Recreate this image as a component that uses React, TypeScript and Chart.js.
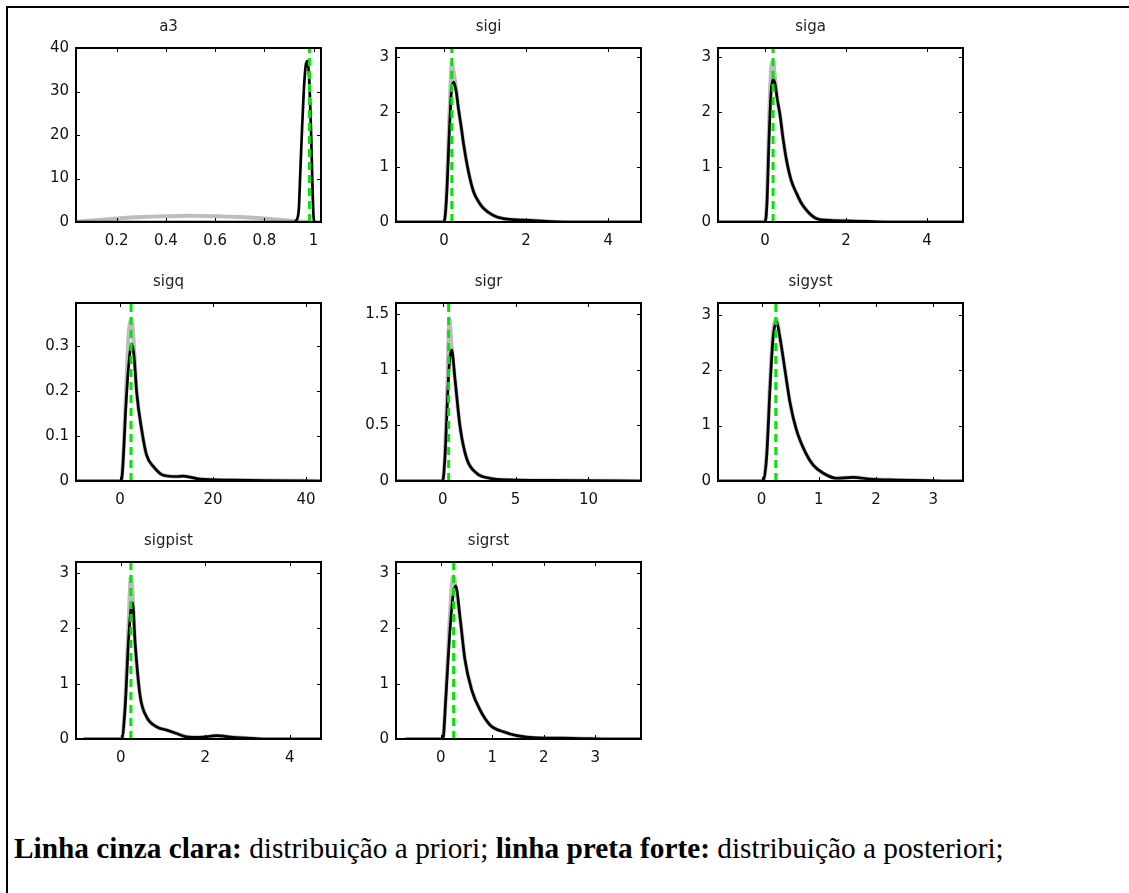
import React, { useEffect, useRef } from "react";
import { Chart, registerables } from "chart.js";

Chart.register(...registerables);

// ---------------- DATA ----------------
// a3
const a3PriorX = [0.035, 0.1, 0.2, 0.3, 0.4, 0.5, 0.6, 0.7, 0.8, 0.9, 0.95, 1.0];
const a3PriorY = [0.05, 0.35, 0.8, 1.15, 1.35, 1.42, 1.35, 1.15, 0.8, 0.35, 0.12, 0.0];
const a3PostX = [0.035, 0.5, 0.92, 0.93, 0.94, 0.945, 0.952, 0.96, 0.968, 0.975, 0.982, 0.99, 0.995, 1.0, 1.005, 1.03];
const a3PostY = [0, 0, 0, 0.4, 3, 10, 20, 30, 36, 37, 33, 20, 9, 1, 0, 0];
const a3Mode = 0.983;
const a3XTicks = [0.2, 0.4, 0.6, 0.8, 1];
const a3YTicks = [0, 10, 20, 30, 40];

// sigi
const sigiX = [-1.17, -0.5, 0, 0.06, 0.13, 0.19, 0.24, 0.3, 0.35, 0.42, 0.48, 0.6, 0.72, 0.85, 0.96, 1.2, 1.45, 1.78, 2.1, 2.5, 3.0, 4.8];
const sigiPost = [0, 0, 0, 0.42, 1.64, 2.44, 2.54, 2.35, 2.07, 1.72, 1.4, 0.9, 0.55, 0.36, 0.25, 0.12, 0.06, 0.04, 0.03, 0.01, 0, 0];
const sigiPrior = [0, 0, 0, 0.5, 1.9, 2.88, 2.7, 2.4, 2.07, 1.72, 1.4, 0.9, 0.55, 0.36, 0.25, 0.12, 0.06, 0.04, 0.03, 0.01, 0, 0];
const sigiMode = 0.19;
const sigiXTicks = [0, 2, 4];
const sigiYTicks = [0, 1, 2, 3];

// siga
const sigaX = [-1.16, -0.5, 0, 0.05, 0.1, 0.15, 0.2, 0.25, 0.3, 0.37, 0.45, 0.53, 0.65, 0.78, 0.9, 1.03, 1.15, 1.28, 1.6, 2.0, 2.5, 3.0, 4.89];
const sigaPost = [0, 0, 0, 0.35, 1.5, 2.35, 2.6, 2.5, 2.25, 1.95, 1.5, 1.13, 0.75, 0.52, 0.34, 0.21, 0.12, 0.06, 0.03, 0.02, 0.01, 0, 0];
const sigaPrior = [0, 0, 0, 0.45, 1.8, 2.75, 2.92, 2.6, 2.25, 1.95, 1.5, 1.13, 0.75, 0.52, 0.34, 0.21, 0.12, 0.06, 0.03, 0.02, 0.01, 0, 0];
const sigaMode = 0.2;
const sigaXTicks = [0, 2, 4];
const sigaYTicks = [0, 1, 2, 3];

// sigq
const sigqX = [-9.46, -3, 0, 0.36, 1.3, 1.8, 2.5, 3.0, 3.6, 4.66, 5.7, 7.2, 9.3, 12.2, 13.6, 17.2, 24, 31.5, 43.2];
const sigqPost = [0, 0, 0, 0.005, 0.173, 0.25, 0.306, 0.28, 0.196, 0.114, 0.058, 0.032, 0.013, 0.01, 0.011, 0.004, 0.002, 0.001, 0];
const sigqPrior = [0, 0, 0, 0.005, 0.2, 0.32, 0.36, 0.3, 0.196, 0.114, 0.058, 0.032, 0.013, 0.01, 0.011, 0.004, 0.002, 0.001, 0];
const sigqMode = 2.37;
const sigqXTicks = [0, 20, 40];
const sigqYTicks = [0, 0.1, 0.2, 0.3];

// sigr
const sigrX = [-3.2, -1, 0, 0.16, 0.32, 0.46, 0.62, 0.85, 1.19, 1.65, 2.33, 3.25, 4.6, 7.4, 9.7, 13.6];
const sigrPost = [0, 0, 0, 0.22, 0.7, 1.06, 1.18, 0.91, 0.49, 0.2, 0.07, 0.024, 0.01, 0.005, 0.003, 0];
const sigrPrior = [0, 0, 0, 0.25, 0.85, 1.46, 1.2, 0.91, 0.49, 0.2, 0.07, 0.024, 0.01, 0.005, 0.003, 0];
const sigrMode = 0.41;
const sigrXTicks = [0, 5, 10];
const sigrYTicks = [0, 0.5, 1, 1.5];

// sigyst
const sigystX = [-0.76, -0.3, 0, 0.03, 0.09, 0.15, 0.2, 0.26, 0.32, 0.41, 0.5, 0.61, 0.76, 0.9, 1.08, 1.31, 1.6, 1.89, 2.36, 2.94, 3.3, 3.52];
const sigystPost = [0, 0, 0, 0, 0.44, 1.7, 2.55, 2.88, 2.6, 2.0, 1.4, 0.92, 0.53, 0.29, 0.14, 0.05, 0.066, 0.036, 0.018, 0.005, 0, 0];
const sigystPrior = [0, 0, 0, 0, 0.5, 1.8, 2.65, 2.92, 2.6, 2.0, 1.4, 0.92, 0.53, 0.29, 0.14, 0.05, 0.066, 0.036, 0.018, 0.005, 0, 0];
const sigystMode = 0.25;
const sigystXTicks = [0, 1, 2, 3];
const sigystYTicks = [0, 1, 2, 3];

// sigpist
const sigpistX = [-0.88, -0.3, 0, 0.02, 0.1, 0.18, 0.24, 0.28, 0.34, 0.46, 0.61, 0.85, 1.09, 1.32, 1.56, 1.87, 2.27, 2.66, 3.13, 3.37, 4.74];
const sigpistPost = [0, 0, 0, 0, 0.53, 1.73, 2.35, 2.46, 1.73, 0.77, 0.4, 0.22, 0.16, 0.1, 0.04, 0.03, 0.06, 0.03, 0.01, 0, 0];
const sigpistPrior = [0, 0, 0, 0, 0.6, 2.0, 2.94, 2.6, 1.73, 0.77, 0.4, 0.22, 0.16, 0.1, 0.04, 0.03, 0.06, 0.03, 0.01, 0, 0];
const sigpistMode = 0.24;
const sigpistXTicks = [0, 2, 4];
const sigpistYTicks = [0, 1, 2, 3];

// sigrst
const sigrstX = [-0.69, -0.3, 0, 0.04, 0.1, 0.17, 0.24, 0.29, 0.38, 0.47, 0.6, 0.76, 0.96, 1.22, 1.48, 1.87, 2.39, 2.9, 3.3, 3.89];
const sigrstPost = [0, 0, 0, 0, 0.77, 1.85, 2.6, 2.77, 2.15, 1.43, 0.89, 0.53, 0.25, 0.13, 0.06, 0.02, 0.015, 0.005, 0, 0];
const sigrstPrior = [0, 0, 0, 0, 0.8, 2.1, 2.94, 2.75, 2.15, 1.43, 0.89, 0.53, 0.25, 0.13, 0.06, 0.02, 0.015, 0.005, 0, 0];
const sigrstMode = 0.25;
const sigrstXTicks = [0, 1, 2, 3];
const sigrstYTicks = [0, 1, 2, 3];

// ---------------- LAYOUT ----------------
const COLS = [76, 396, 718];
const BOX_W = 245;
const ROWS = [
  { top: 48, h: 174 },
  { top: 303, h: 178 },
  { top: 562, h: 177 },
];

type Panel = {
  title: string;
  col: number;
  row: number;
  xMin: number;
  xMax: number;
  yMax: number;
  xTicks: number[];
  yTicks: number[];
  priorX: number[];
  priorY: number[];
  postX: number[];
  postY: number[];
  mode: number;
};

const PANELS: Panel[] = [
  { title: "a3", col: 0, row: 0, xMin: 0.035, xMax: 1.03, yMax: 40, xTicks: a3XTicks, yTicks: a3YTicks, priorX: a3PriorX, priorY: a3PriorY, postX: a3PostX, postY: a3PostY, mode: a3Mode },
  { title: "sigi", col: 1, row: 0, xMin: -1.17, xMax: 4.8, yMax: 3.16, xTicks: sigiXTicks, yTicks: sigiYTicks, priorX: sigiX, priorY: sigiPrior, postX: sigiX, postY: sigiPost, mode: sigiMode },
  { title: "siga", col: 2, row: 0, xMin: -1.16, xMax: 4.89, yMax: 3.16, xTicks: sigaXTicks, yTicks: sigaYTicks, priorX: sigaX, priorY: sigaPrior, postX: sigaX, postY: sigaPost, mode: sigaMode },
  { title: "sigq", col: 0, row: 1, xMin: -9.46, xMax: 43.2, yMax: 0.397, xTicks: sigqXTicks, yTicks: sigqYTicks, priorX: sigqX, priorY: sigqPrior, postX: sigqX, postY: sigqPost, mode: sigqMode },
  { title: "sigr", col: 1, row: 1, xMin: -3.2, xMax: 13.6, yMax: 1.6, xTicks: sigrXTicks, yTicks: sigrYTicks, priorX: sigrX, priorY: sigrPrior, postX: sigrX, postY: sigrPost, mode: sigrMode },
  { title: "sigyst", col: 2, row: 1, xMin: -0.76, xMax: 3.52, yMax: 3.21, xTicks: sigystXTicks, yTicks: sigystYTicks, priorX: sigystX, priorY: sigystPrior, postX: sigystX, postY: sigystPost, mode: sigystMode },
  { title: "sigpist", col: 0, row: 2, xMin: -1.06, xMax: 4.74, yMax: 3.2, xTicks: sigpistXTicks, yTicks: sigpistYTicks, priorX: sigpistX, priorY: sigpistPrior, postX: sigpistX, postY: sigpistPost, mode: sigpistMode },
  { title: "sigrst", col: 1, row: 2, xMin: -0.87, xMax: 3.89, yMax: 3.2, xTicks: sigrstXTicks, yTicks: sigrstYTicks, priorX: sigrstX, priorY: sigrstPrior, postX: sigrstX, postY: sigrstPost, mode: sigrstMode },
];

const Y_AXIS_W = 60;
const X_AXIS_H = 36;
const TOP_H = 40;
const RIGHT_PAD = 14;

const TICK_FONT = { family: '"DejaVu Sans", sans-serif', size: 15 };
const TEXT_COLOR = "#111";

const boxPlugin = {
  id: "matlabBox",
  afterDatasetsDraw(chart: any) {
    const { ctx, chartArea, scales } = chart;
    const { left, right, top, bottom } = chartArea;
    const xs = scales.x;
    const ys = scales.y;
    ctx.save();
    ctx.strokeStyle = "#000";
    ctx.lineWidth = 1;
    ctx.beginPath();
    for (const t of xs.ticks) {
      const px = Math.round(xs.getPixelForValue(t.value)) + 0.5;
      ctx.moveTo(px, bottom);
      ctx.lineTo(px, bottom - 4);
      ctx.moveTo(px, top);
      ctx.lineTo(px, top + 4);
    }
    for (const t of ys.ticks) {
      const py = Math.round(ys.getPixelForValue(t.value)) + 0.5;
      ctx.moveTo(left, py);
      ctx.lineTo(left + 4, py);
      ctx.moveTo(right, py);
      ctx.lineTo(right - 4, py);
    }
    ctx.stroke();
    ctx.lineWidth = 2;
    ctx.strokeRect(left, top, right - left, bottom - top);
    ctx.restore();
  },
};

function Subplot({ p }: { p: Panel }) {
  const ref = useRef<HTMLCanvasElement>(null);
  const boxLeft = COLS[p.col];
  const row = ROWS[p.row];
  const width = Y_AXIS_W + BOX_W + RIGHT_PAD;
  const height = TOP_H + row.h + X_AXIS_H;

  useEffect(() => {
    if (!ref.current) return;
    const chart = new Chart(ref.current, {
      type: "scatter",
      data: {
        datasets: [
          {
            label: "mode",
            data: [
              { x: p.mode, y: 0 },
              { x: p.mode, y: p.yMax },
            ],
            showLine: true,
            borderColor: "#00e600",
            borderWidth: 3,
            borderDash: [8, 5],
            pointRadius: 0,
          },
          {
            label: "posterior",
            data: p.postX.map((x, i) => ({ x, y: p.postY[i] })),
            showLine: true,
            borderColor: "#000",
            borderWidth: 2.7,
            pointRadius: 0,
            cubicInterpolationMode: "monotone",
          },
          {
            label: "prior",
            data: p.priorX.map((x, i) => ({ x, y: p.priorY[i] })),
            showLine: true,
            borderColor: "#bdbdbd",
            borderWidth: 4,
            pointRadius: 0,
            cubicInterpolationMode: "monotone",
          },
        ],
      },
      options: {
        animation: false,
        responsive: false,
        maintainAspectRatio: false,
        events: [],
        layout: { padding: { top: 0, right: RIGHT_PAD, left: 0, bottom: 0 } },
        plugins: {
          legend: { display: false },
          tooltip: { enabled: false },
          title: {
            display: true,
            text: p.title,
            color: "#222",
            font: { family: '"DejaVu Sans", sans-serif', size: 15, weight: "normal", lineHeight: 1.2 },
            padding: { top: 10, bottom: 12 },
          },
        },
        scales: {
          x: {
            type: "linear",
            min: p.xMin,
            max: p.xMax,
            afterBuildTicks: (s: any) => {
              s.ticks = p.xTicks.map((v) => ({ value: v }));
            },
            afterFit: (s: any) => {
              s.height = X_AXIS_H;
            },
            grid: { display: false, drawTicks: false },
            border: { display: false },
            ticks: {
              color: TEXT_COLOR,
              font: TICK_FONT,
              padding: 10,
              maxRotation: 0,
              autoSkip: false,
              callback: (v: any) => String(v),
            },
          },
          y: {
            type: "linear",
            min: 0,
            max: p.yMax,
            afterBuildTicks: (s: any) => {
              s.ticks = p.yTicks.map((v) => ({ value: v }));
            },
            afterFit: (s: any) => {
              s.width = Y_AXIS_W;
            },
            grid: { display: false, drawTicks: false },
            border: { display: false },
            ticks: {
              color: TEXT_COLOR,
              font: TICK_FONT,
              padding: 7,
              autoSkip: false,
              callback: (v: any) => String(v),
            },
          },
        },
      },
      plugins: [boxPlugin],
    } as any);
    return () => chart.destroy();
  }, []);

  return (
    <canvas
      ref={ref}
      width={width}
      height={height}
      style={{
        position: "absolute",
        left: boxLeft - Y_AXIS_W,
        top: row.top - TOP_H,
        width,
        height,
      }}
    />
  );
}

export default function App() {
  return (
    <div
      style={{
        position: "absolute",
        left: 0,
        top: 0,
        width: 1129,
        height: 893,
        background: "#fff",
        overflow: "hidden",
      }}
    >
      <div
        style={{
          position: "absolute",
          left: 6,
          top: 6,
          width: 1130,
          height: 900,
          borderTop: "2px solid #000",
          borderLeft: "2px solid #000",
          boxSizing: "border-box",
        }}
      />
      {PANELS.map((p) => (
        <Subplot key={p.title} p={p} />
      ))}
      <div
        style={{
          position: "absolute",
          left: 14,
          top: 831,
          fontFamily: '"Liberation Serif", "Times New Roman", serif',
          fontSize: 29.3,
          lineHeight: "34px",
          whiteSpace: "nowrap",
          color: "#000",
        }}
      >
        <b>Linha cinza clara:</b> distribuição a priori; <b>linha preta forte:</b> distribuição a posteriori;
      </div>
    </div>
  );
}
